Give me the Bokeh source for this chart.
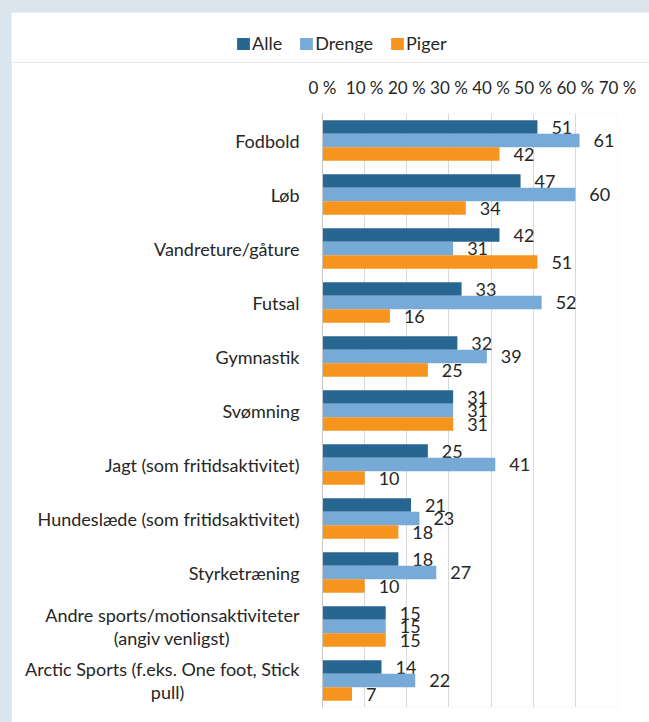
from bokeh.plotting import figure
from bokeh.layouts import column
from bokeh.models import (FactorRange, Range1d, FixedTicker, Legend, LegendItem,
                          ColumnDataSource)
from bokeh.transform import dodge
from bokeh.core.properties import value
from bokeh.embed import file_html
from bokeh.resources import INLINE

categories = [
    "Fodbold",
    "Løb",
    "Vandreture/gåture",
    "Futsal",
    "Gymnastik",
    "Svømning",
    "Jagt (som fritidsaktivitet)",
    "Hundeslæde (som fritidsaktivitet)",
    "Styrketræning",
    "Andre sports/motionsaktiviteter\n(angiv venligst)",
    "Arctic Sports (f.eks. One foot, Stick\npull)",
]
alle = [51, 47, 42, 33, 32, 31, 25, 21, 18, 15, 14]
drenge = [61, 60, 31, 52, 39, 31, 41, 23, 27, 15, 22]
piger = [42, 34, 51, 16, 25, 31, 10, 18, 10, 15, 7]
series_names = ["Alle", "Drenge", "Piger"]
tick_values = [0, 10, 20, 30, 40, 50, 60, 70]
tick_labels = ["0 %", "10 %", "20 %", "30 %", "40 %", "50 %", "60 %", "70 %"]

colors = ["#276690", "#78AAD8", "#F7941E"]
offsets = [0.25, 0.0, -0.25]
FONT = "Lato"
TXT = "#262626"
NB = "\u00a0"
# no-break spaces after a short second line, so that it sits centred under the first
LINE_PAD = {"(angiv venligst)": 15, "pull)": 25}


def centered(label):
    return "\n".join(l + NB * LINE_PAD.get(l, 0) for l in label.split("\n"))


factors = [centered(c) for c in categories]

src = ColumnDataSource(dict(
    cat=factors,
    Alle=alle, Drenge=drenge, Piger=piger,
    Alle_l=[str(v) for v in alle],
    Drenge_l=[str(v) for v in drenge],
    Piger_l=[str(v) for v in piger],
))

# ---------------- main chart ----------------
p = figure(width=638, height=660,
           y_range=FactorRange(factors=list(reversed(factors))),
           x_range=Range1d(0, 70),
           x_axis_location="above",
           output_backend="svg", toolbar_location=None,
           min_border_left=311, min_border_right=32,
           min_border_top=51, min_border_bottom=15)
p.frame_align = False
p.outline_line_color = None
p.background_fill_color = "white"
p.border_fill_color = "white"

for name, col, off in zip(series_names, colors, offsets):
    p.hbar(y=dodge("cat", off, range=p.y_range), left=0, right=name,
           height=0.25, source=src, fill_color=col, line_color=None)
    p.text(x=name, y=dodge("cat", off, range=p.y_range), text=name + "_l",
           source=src, x_offset=14, text_baseline="middle", text_align="left",
           text_font=value(FONT), text_font_size="18px", text_color=TXT)

xa = p.xaxis[0]
xa.ticker = FixedTicker(ticks=tick_values)
xa.major_label_overrides = {v: l for v, l in zip(tick_values, tick_labels)}
xa.axis_line_color = None
xa.major_tick_line_color = None
xa.minor_tick_line_color = None
xa.major_label_text_font = FONT
xa.major_label_text_font_size = "17px"
xa.major_label_text_color = TXT
xa.major_label_standoff = 10

p.xgrid.ticker = FixedTicker(ticks=tick_values)
p.xgrid.grid_line_color = "#d9d9d9"
p.ygrid.grid_line_color = None

ya = p.yaxis[0]
ya.axis_line_color = "#c8c8c8"
ya.major_tick_line_color = None
ya.minor_tick_line_color = None
ya.major_label_text_font = FONT
ya.major_label_text_font_size = "18px"
ya.major_label_text_color = TXT
ya.major_label_text_line_height = 1.05
ya.major_label_standoff = 17

# ---------------- legend strip ----------------
# the strip's x range lies left of zero, so its bars stay out of view and only
# the legend (which takes its swatches from them) is seen
lg = figure(width=638, height=50,
            x_range=Range1d(-2, -1),
            y_range=FactorRange(factors=list(reversed(factors))),
            x_axis_type=None, y_axis_type=None,
            output_backend="svg", toolbar_location=None,
            min_border_left=0, min_border_right=0,
            min_border_top=0, min_border_bottom=0)
lg.frame_align = False
lg.outline_line_color = None
lg.background_fill_color = "white"
lg.border_fill_color = "white"

leg_renderers = [lg.hbar(y=dodge("cat", off, range=lg.y_range), left=0, right=name,
                         height=0.25, source=src, fill_color=col, line_color=None)
                 for name, col, off in zip(series_names, colors, offsets)]

legend = Legend(
    items=[LegendItem(label=n, renderers=[r]) for n, r in zip(series_names, leg_renderers)],
    orientation="horizontal", location=(224, 8),
    padding=0, margin=0, spacing=16, label_standoff=1,
    glyph_width=16, glyph_height=15, label_height=15,
    border_line_color=None, background_fill_alpha=0,
    label_text_font=FONT, label_text_font_size="18px", label_text_color=TXT,
)
lg.add_layout(legend, "center")

layout = column(lg, p, spacing=0)
layout.margin = (12, 0, 0, 11)

html = file_html(layout, INLINE)
html = html.replace("<head>", "<head><style>body{background:#dae5ee;}</style>", 1)
open("out.html", "w").write(html)
